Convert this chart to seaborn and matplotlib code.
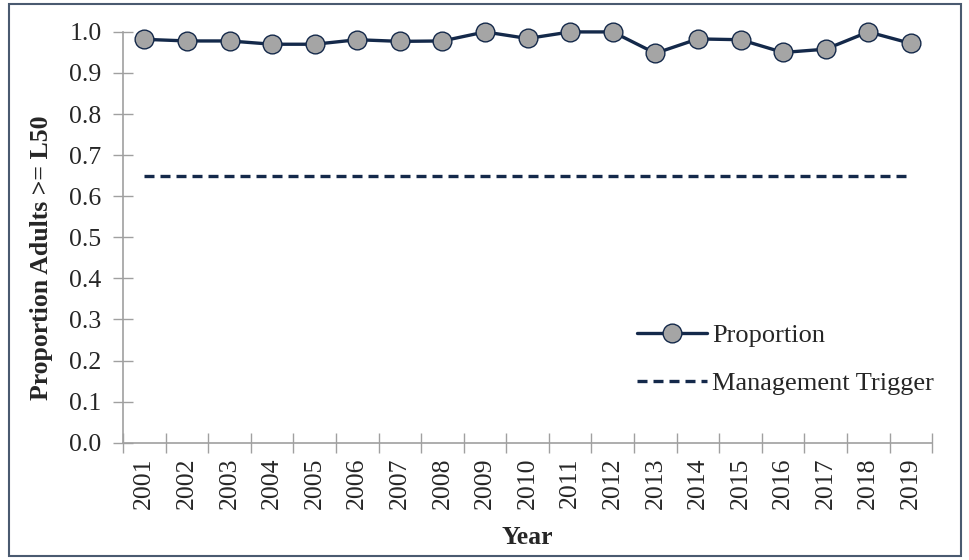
import numpy as np
import pandas as pd
import matplotlib
matplotlib.use("Agg")
import matplotlib.pyplot as plt
import seaborn as sns

years = [str(y) for y in range(2001, 2020)]
proportion = [0.982, 0.978, 0.978, 0.970, 0.970, 0.981, 0.977, 0.978, 1.000, 0.984,
              1.000, 1.000, 0.948, 0.983, 0.981, 0.950, 0.958, 1.000, 0.972]
trigger = [0.65] * len(years)

sns.set_style("white")
plt.rcParams['font.family'] = ['Liberation Serif', 'DejaVu Serif']

navy = '#14294a'
fs = 18.5
df = pd.DataFrame({'Year': years, 'Proportion': proportion, 'Management Trigger': trigger})

fig = plt.figure(figsize=(9.69, 5.6), dpi=100)
ax = fig.add_axes([0.127, 0.2095, 0.835, 0.7335])

sns.lineplot(data=df, x='Year', y='Proportion', ax=ax, color=navy, linewidth=2.4,
             marker='o', markersize=13.5, markerfacecolor='#a5a5a5', markeredgecolor=navy,
             markeredgewidth=1.0, label='Proportion', sort=False, clip_on=False, zorder=5)
sns.lineplot(data=df, x='Year', y='Management Trigger', ax=ax, color=navy, linewidth=2.4,
             linestyle=(0, (3.0, 1.8)), label='Management Trigger', sort=False)

ax.set_xlim(-0.5, len(years) - 0.5)
ax.set_ylim(0, 1.0)
ax.set_yticks(np.arange(0, 1.01, 0.1))
ax.set_yticklabels([f'{v:.1f}' for v in np.arange(0, 1.01, 0.1)], fontsize=fs)
ax.set_xticks(range(len(years)))
ax.set_xticklabels(years, rotation=90, fontsize=fs)
ax.set_xticks(np.arange(-0.5, len(years), 1.0), minor=True)
ax.tick_params(axis='x', which='major', length=0, pad=11)
ax.tick_params(axis='x', which='minor', direction='inout', length=15, width=1, color='#a0a0a0')
ax.tick_params(axis='y', direction='inout', length=15, width=1, color='#a0a0a0', pad=8)
ax.yaxis.set_ticks_position('left')
ax.xaxis.set_ticks_position('bottom')

for side in ['top', 'right']:
    ax.spines[side].set_visible(False)
for side in ['left', 'bottom']:
    ax.spines[side].set_color('#a0a0a0')
    ax.spines[side].set_linewidth(1.2)

ax.set_xlabel('Year', fontsize=fs, fontweight='bold', labelpad=12)
ax.set_ylabel('Proportion Adults >= L50', fontsize=fs, fontweight='bold')
ax.yaxis.set_label_coords(-0.087, 0.45)

leg = ax.legend(loc='lower right', bbox_to_anchor=(1.002, 0.115), frameon=False,
                fontsize=19, handlelength=2.65, handletextpad=0.2, labelspacing=0.95,
                borderaxespad=0, borderpad=0)

border = plt.Rectangle((0.009, 0.008), 0.983, 0.985, transform=fig.transFigure,
                       fill=False, edgecolor='#4a5a70', linewidth=1.5)
fig.patches.append(border)

fig.savefig('out.png', dpi=100)
